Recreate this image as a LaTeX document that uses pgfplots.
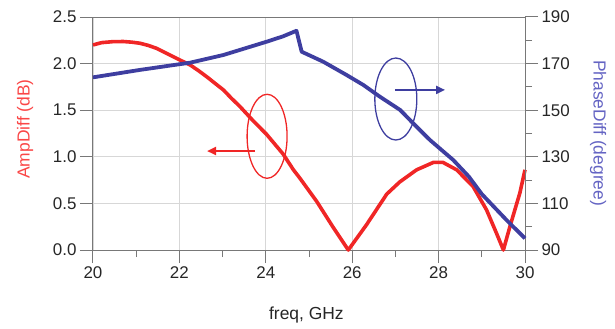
\documentclass[border=0pt]{standalone}
\usepackage{fontspec}
\setmainfont{Liberation Sans}
\usepackage{pgfplots}
\pgfplotsset{compat=1.18}
\usetikzlibrary{arrows.meta}
\definecolor{ampred}{RGB}{240,38,38}
\definecolor{phblue}{RGB}{62,62,160}
\definecolor{lblblue}{RGB}{100,100,195}
\definecolor{lblred}{RGB}{250,70,70}
\definecolor{axgray}{RGB}{120,120,120}
\definecolor{gridgray}{RGB}{215,215,215}
\begin{document}
\begin{tikzpicture}
\pgfplotsset{
  common/.style={
    scale only axis, width=432bp, height=233bp,
    xmin=20, xmax=30,
    tick align=outside,
    major tick length=13bp, minor tick length=7bp,
    tick style={axgray, line width=1bp},
    axis line style={axgray, line width=1bp},
    ticklabel style={font=\fontsize{17}{20}\selectfont, text=black!85},
    label style={font=\fontsize{17.5}{20}\selectfont},
    /pgf/number format/assume math mode=true,
    clip=false,
  },
}
\begin{axis}[common,
  ymin=0, ymax=2.5,
  xtick={20,22,...,30}, minor xtick={21,23,...,29},
  ytick={0,0.5,1,1.5,2,2.5},
  yticklabel style={/pgf/number format/fixed, /pgf/number format/fixed zerofill, /pgf/number format/precision=1},
  xtick pos=bottom, ytick pos=left,
  grid=major, major grid style={gridgray, line width=0.8bp},
  xlabel={freq, GHz}, ylabel={AmpDiff (dB)},
  xlabel style={at={(axis description cs:0.494,-0.279)}, anchor=center, text=black!85},
  ylabel style={at={(axis description cs:-0.157,0.519)}, anchor=center, text=lblred},
]
\addplot[ampred, line width=3.6bp, line join=round] coordinates {
(20.0,2.20) (20.2,2.225) (20.45,2.235) (20.7,2.237) (20.9,2.23) (21.09,2.218)
(21.28,2.195) (21.47,2.164) (21.66,2.12) (21.86,2.074) (22.05,2.03) (22.25,1.985)
(22.44,1.925) (22.63,1.86) (22.82,1.79) (23.02,1.717) (23.2,1.63) (23.4,1.54)
(23.7,1.39) (24.02,1.24) (24.4,1.03) (24.64,0.86) (24.79,0.77) (25.18,0.52)
(25.55,0.25) (25.91,0.0) (26.33,0.27) (26.8,0.60) (27.1,0.73) (27.49,0.86)
(27.88,0.94) (28.1,0.94) (28.42,0.86) (28.8,0.68) (29.11,0.43) (29.34,0.18)
(29.5,0.0) (29.65,0.25) (29.88,0.61) (30.0,0.86)
};
\draw[ampred, line width=1.3bp] (axis cs:24.03,1.22) ellipse [x radius=20bp, y radius=42bp];
\draw[ampred, line width=2bp, -{Triangle[length=9bp,width=8bp]}] (axis cs:23.75,1.062) -- (axis cs:22.64,1.062);
\end{axis}
\begin{axis}[common,
  ymin=90, ymax=190,
  axis x line=none, axis y line*=right,
  y axis line style={-},
  ytick={90,110,...,190}, minor ytick={100,120,...,180},
  ylabel={PhaseDiff (degree)},
  ylabel style={at={(axis description cs:1.169,0.502)}, anchor=center, rotate=180, text=lblblue},
]
\addplot[phblue, line width=3.8bp, line join=round] coordinates {
(20.0,164.1) (21.09,167.3) (22.25,170.4) (23.02,173.7) (24.02,179.4) (24.4,181.7)
(24.71,184.1) (24.83,175.1) (25.33,170.8) (25.87,165.1) (26.26,160.8) (26.64,155.8)
(27.11,150.1) (27.41,144.4) (27.8,137.2) (28.34,128.6) (28.7,121.5) (29.0,114.0)
(29.57,102.9) (30.0,95.0)
};
\draw[phblue, line width=1.3bp] (axis cs:27.01,154.8) ellipse [x radius=21bp, y radius=41bp];
\draw[phblue, line width=2bp, -{Triangle[length=9bp,width=8bp]}] (axis cs:26.99,158.7) -- (axis cs:28.15,158.7);
\end{axis}
\pgfresetboundingbox
\useasboundingbox (-93bp,-79bp) rectangle (522bp,250bp);
\end{tikzpicture}
\end{document}
